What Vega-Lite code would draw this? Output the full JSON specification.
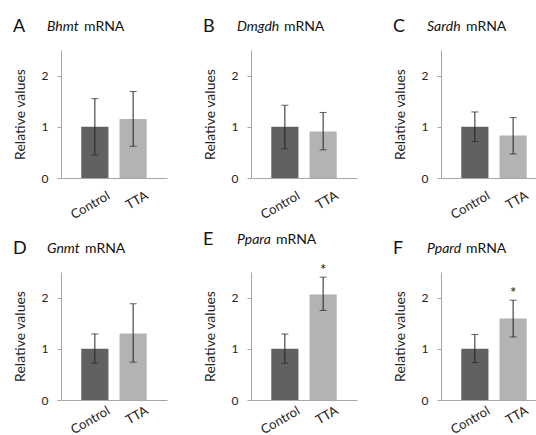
{
  "$schema": "https://vega.github.io/schema/vega-lite/v6.json",
  "padding": {"left": 13, "top": 18, "right": 0, "bottom": 2},
  "background": "white",
  "spacing": 9,
  "datasets": {
    "d": [
      {"panel": "A", "group": "Control", "value": 1.0, "lo": 0.45, "hi": 1.55, "sig": ""},
      {"panel": "A", "group": "TTA", "value": 1.15, "lo": 0.62, "hi": 1.69, "sig": ""},
      {"panel": "B", "group": "Control", "value": 1.0, "lo": 0.57, "hi": 1.42, "sig": ""},
      {"panel": "B", "group": "TTA", "value": 0.91, "lo": 0.55, "hi": 1.28, "sig": ""},
      {"panel": "C", "group": "Control", "value": 1.0, "lo": 0.71, "hi": 1.29, "sig": ""},
      {"panel": "C", "group": "TTA", "value": 0.83, "lo": 0.47, "hi": 1.18, "sig": ""},
      {"panel": "D", "group": "Control", "value": 1.0, "lo": 0.72, "hi": 1.29, "sig": ""},
      {"panel": "D", "group": "TTA", "value": 1.30, "lo": 0.74, "hi": 1.88, "sig": ""},
      {"panel": "E", "group": "Control", "value": 1.0, "lo": 0.72, "hi": 1.29, "sig": ""},
      {"panel": "E", "group": "TTA", "value": 2.06, "lo": 1.75, "hi": 2.40, "sig": "*"},
      {"panel": "F", "group": "Control", "value": 1.0, "lo": 0.73, "hi": 1.28, "sig": ""},
      {"panel": "F", "group": "TTA", "value": 1.59, "lo": 1.23, "hi": 1.95, "sig": "*"}
    ]
  },
  "config": {
    "font": "Lato",
    "view": {"stroke": null},
    "axis": {"grid": false, "domainColor": "#a6a6a6", "tickColor": "#a6a6a6", "labelFont": "Lato", "titleFont": "Lato", "labelColor": "#222222", "titleColor": "#222222"},
    "title": {"font": "Lato", "color": "#111111", "fontWeight": "normal", "subtitleFont": "Lato", "subtitleColor": "#111111"}
  },
  "vconcat": [
    {
      "spacing": 36,
      "hconcat": [
        {
          "title": {"text": "A", "anchor": "start", "frame": "bounds", "fontSize": 18, "offset": -18, "dy": -2},
          "vconcat": [{
            "title": {"text": "Bhmt", "subtitle": "mRNA", "fontSize": 14, "fontStyle": "italic", "subtitleFontSize": 14, "subtitleFontStyle": "normal", "anchor": "start", "frame": "group", "dx": -14, "subtitlePadding": 0, "offset": 16, "encode": {"subtitle": {"update": {"dx": {"value": 23}, "dy": {"value": -14}}}}},
            "width": 106, "height": 128,
            "data": {"name": "d"},
            "transform": [{"filter": "datum.panel == 'A'"}],
            "encoding": {
              "x": {"field": "group", "type": "nominal", "sort": ["Control", "TTA"], "scale": {"paddingInner": 0.29, "paddingOuter": 0.53}, "axis": {"title": null, "labelAngle": -30, "labelAlign": "right", "labelBaseline": "top", "labelOffset": 11, "ticks": false, "labelPadding": 11, "labelFontSize": 13}}
            },
            "layer": [
              {"mark": {"type": "bar"}, "encoding": {"y": {"field": "value", "type": "quantitative", "scale": {"domain": [0, 2.5], "nice": false}, "axis": {"values": [0, 1, 2], "format": "d", "tickSize": 4, "labelPadding": 9, "labelFontSize": 12, "title": "Relative values", "titleFontSize": 14, "titleFontWeight": "normal", "titlePadding": 14}}, "color": {"field": "group", "type": "nominal", "scale": {"domain": ["Control", "TTA"], "range": ["#616161", "#b3b3b3"]}, "legend": null}}},
              {"mark": {"type": "rule", "color": "#222222", "strokeWidth": 1}, "encoding": {"y": {"field": "lo", "type": "quantitative"}, "y2": {"field": "hi"}}},
              {"mark": {"type": "tick", "color": "#222222", "thickness": 1, "size": 7, "orient": "horizontal"}, "encoding": {"y": {"field": "lo", "type": "quantitative"}}},
              {"mark": {"type": "tick", "color": "#222222", "thickness": 1, "size": 7, "orient": "horizontal"}, "encoding": {"y": {"field": "hi", "type": "quantitative"}}},
              {"mark": {"type": "text", "fontSize": 15, "baseline": "alphabetic", "dy": -2, "color": "#111111"}, "encoding": {"y": {"field": "hi", "type": "quantitative"}, "text": {"field": "sig"}}}
            ]
          }]
        },
        {
          "title": {"text": "B", "anchor": "start", "frame": "bounds", "fontSize": 18, "offset": -18, "dy": -2},
          "vconcat": [{
            "title": {"text": "Dmgdh", "subtitle": "mRNA", "fontSize": 14, "fontStyle": "italic", "subtitleFontSize": 14, "subtitleFontStyle": "normal", "anchor": "start", "frame": "group", "dx": -14, "subtitlePadding": 0, "offset": 16, "encode": {"subtitle": {"update": {"dx": {"value": 33}, "dy": {"value": -14}}}}},
            "width": 106, "height": 128,
            "data": {"name": "d"},
            "transform": [{"filter": "datum.panel == 'B'"}],
            "encoding": {
              "x": {"field": "group", "type": "nominal", "sort": ["Control", "TTA"], "scale": {"paddingInner": 0.29, "paddingOuter": 0.53}, "axis": {"title": null, "labelAngle": -30, "labelAlign": "right", "labelBaseline": "top", "labelOffset": 11, "ticks": false, "labelPadding": 11, "labelFontSize": 13}}
            },
            "layer": [
              {"mark": {"type": "bar"}, "encoding": {"y": {"field": "value", "type": "quantitative", "scale": {"domain": [0, 2.5], "nice": false}, "axis": {"values": [0, 1, 2], "format": "d", "tickSize": 4, "labelPadding": 9, "labelFontSize": 12, "title": "Relative values", "titleFontSize": 14, "titleFontWeight": "normal", "titlePadding": 14}}, "color": {"field": "group", "type": "nominal", "scale": {"domain": ["Control", "TTA"], "range": ["#616161", "#b3b3b3"]}, "legend": null}}},
              {"mark": {"type": "rule", "color": "#222222", "strokeWidth": 1}, "encoding": {"y": {"field": "lo", "type": "quantitative"}, "y2": {"field": "hi"}}},
              {"mark": {"type": "tick", "color": "#222222", "thickness": 1, "size": 7, "orient": "horizontal"}, "encoding": {"y": {"field": "lo", "type": "quantitative"}}},
              {"mark": {"type": "tick", "color": "#222222", "thickness": 1, "size": 7, "orient": "horizontal"}, "encoding": {"y": {"field": "hi", "type": "quantitative"}}},
              {"mark": {"type": "text", "fontSize": 15, "baseline": "alphabetic", "dy": -2, "color": "#111111"}, "encoding": {"y": {"field": "hi", "type": "quantitative"}, "text": {"field": "sig"}}}
            ]
          }]
        },
        {
          "title": {"text": "C", "anchor": "start", "frame": "bounds", "fontSize": 18, "offset": -18, "dy": -2},
          "vconcat": [{
            "title": {"text": "Sardh", "subtitle": "mRNA", "fontSize": 14, "fontStyle": "italic", "subtitleFontSize": 14, "subtitleFontStyle": "normal", "anchor": "start", "frame": "group", "dx": -14, "subtitlePadding": 0, "offset": 16, "encode": {"subtitle": {"update": {"dx": {"value": 25}, "dy": {"value": -14}}}}},
            "width": 106, "height": 128,
            "data": {"name": "d"},
            "transform": [{"filter": "datum.panel == 'C'"}],
            "encoding": {
              "x": {"field": "group", "type": "nominal", "sort": ["Control", "TTA"], "scale": {"paddingInner": 0.29, "paddingOuter": 0.53}, "axis": {"title": null, "labelAngle": -30, "labelAlign": "right", "labelBaseline": "top", "labelOffset": 11, "ticks": false, "labelPadding": 11, "labelFontSize": 13}}
            },
            "layer": [
              {"mark": {"type": "bar"}, "encoding": {"y": {"field": "value", "type": "quantitative", "scale": {"domain": [0, 2.5], "nice": false}, "axis": {"values": [0, 1, 2], "format": "d", "tickSize": 4, "labelPadding": 9, "labelFontSize": 12, "title": "Relative values", "titleFontSize": 14, "titleFontWeight": "normal", "titlePadding": 14}}, "color": {"field": "group", "type": "nominal", "scale": {"domain": ["Control", "TTA"], "range": ["#616161", "#b3b3b3"]}, "legend": null}}},
              {"mark": {"type": "rule", "color": "#222222", "strokeWidth": 1}, "encoding": {"y": {"field": "lo", "type": "quantitative"}, "y2": {"field": "hi"}}},
              {"mark": {"type": "tick", "color": "#222222", "thickness": 1, "size": 7, "orient": "horizontal"}, "encoding": {"y": {"field": "lo", "type": "quantitative"}}},
              {"mark": {"type": "tick", "color": "#222222", "thickness": 1, "size": 7, "orient": "horizontal"}, "encoding": {"y": {"field": "hi", "type": "quantitative"}}},
              {"mark": {"type": "text", "fontSize": 15, "baseline": "alphabetic", "dy": -2, "color": "#111111"}, "encoding": {"y": {"field": "hi", "type": "quantitative"}, "text": {"field": "sig"}}}
            ]
          }]
        }
      ]
    },
    {
      "spacing": 36,
      "hconcat": [
        {
          "title": {"text": "D", "anchor": "start", "frame": "bounds", "fontSize": 18, "offset": -18, "dy": -2},
          "vconcat": [{
            "title": {"text": "Gnmt", "subtitle": "mRNA", "fontSize": 14, "fontStyle": "italic", "subtitleFontSize": 14, "subtitleFontStyle": "normal", "anchor": "start", "frame": "group", "dx": -14, "subtitlePadding": 0, "offset": 16, "encode": {"subtitle": {"update": {"dx": {"value": 24}, "dy": {"value": -14}}}}},
            "width": 106, "height": 128,
            "data": {"name": "d"},
            "transform": [{"filter": "datum.panel == 'D'"}],
            "encoding": {
              "x": {"field": "group", "type": "nominal", "sort": ["Control", "TTA"], "scale": {"paddingInner": 0.29, "paddingOuter": 0.53}, "axis": {"title": null, "labelAngle": -30, "labelAlign": "right", "labelBaseline": "top", "labelOffset": 11, "ticks": false, "labelPadding": 4, "labelFontSize": 13}}
            },
            "layer": [
              {"mark": {"type": "bar"}, "encoding": {"y": {"field": "value", "type": "quantitative", "scale": {"domain": [0, 2.5], "nice": false}, "axis": {"values": [0, 1, 2], "format": "d", "tickSize": 4, "labelPadding": 9, "labelFontSize": 12, "title": "Relative values", "titleFontSize": 14, "titleFontWeight": "normal", "titlePadding": 14}}, "color": {"field": "group", "type": "nominal", "scale": {"domain": ["Control", "TTA"], "range": ["#616161", "#b3b3b3"]}, "legend": null}}},
              {"mark": {"type": "rule", "color": "#222222", "strokeWidth": 1}, "encoding": {"y": {"field": "lo", "type": "quantitative"}, "y2": {"field": "hi"}}},
              {"mark": {"type": "tick", "color": "#222222", "thickness": 1, "size": 7, "orient": "horizontal"}, "encoding": {"y": {"field": "lo", "type": "quantitative"}}},
              {"mark": {"type": "tick", "color": "#222222", "thickness": 1, "size": 7, "orient": "horizontal"}, "encoding": {"y": {"field": "hi", "type": "quantitative"}}},
              {"mark": {"type": "text", "fontSize": 15, "baseline": "alphabetic", "dy": -2, "color": "#111111"}, "encoding": {"y": {"field": "hi", "type": "quantitative"}, "text": {"field": "sig"}}}
            ]
          }]
        },
        {
          "title": {"text": "E", "anchor": "start", "frame": "bounds", "fontSize": 18, "offset": -18, "dy": -2},
          "vconcat": [{
            "title": {"text": "Ppara", "subtitle": "mRNA", "fontSize": 14, "fontStyle": "italic", "subtitleFontSize": 14, "subtitleFontStyle": "normal", "anchor": "start", "frame": "group", "dx": -14, "subtitlePadding": 0, "offset": 16, "encode": {"subtitle": {"update": {"dx": {"value": 25}, "dy": {"value": -14}}}}},
            "width": 106, "height": 128,
            "data": {"name": "d"},
            "transform": [{"filter": "datum.panel == 'E'"}],
            "encoding": {
              "x": {"field": "group", "type": "nominal", "sort": ["Control", "TTA"], "scale": {"paddingInner": 0.29, "paddingOuter": 0.53}, "axis": {"title": null, "labelAngle": -30, "labelAlign": "right", "labelBaseline": "top", "labelOffset": 11, "ticks": false, "labelPadding": 4, "labelFontSize": 13}}
            },
            "layer": [
              {"mark": {"type": "bar"}, "encoding": {"y": {"field": "value", "type": "quantitative", "scale": {"domain": [0, 2.5], "nice": false}, "axis": {"values": [0, 1, 2], "format": "d", "tickSize": 4, "labelPadding": 9, "labelFontSize": 12, "title": "Relative values", "titleFontSize": 14, "titleFontWeight": "normal", "titlePadding": 14}}, "color": {"field": "group", "type": "nominal", "scale": {"domain": ["Control", "TTA"], "range": ["#616161", "#b3b3b3"]}, "legend": null}}},
              {"mark": {"type": "rule", "color": "#222222", "strokeWidth": 1}, "encoding": {"y": {"field": "lo", "type": "quantitative"}, "y2": {"field": "hi"}}},
              {"mark": {"type": "tick", "color": "#222222", "thickness": 1, "size": 7, "orient": "horizontal"}, "encoding": {"y": {"field": "lo", "type": "quantitative"}}},
              {"mark": {"type": "tick", "color": "#222222", "thickness": 1, "size": 7, "orient": "horizontal"}, "encoding": {"y": {"field": "hi", "type": "quantitative"}}},
              {"mark": {"type": "text", "fontSize": 15, "baseline": "alphabetic", "dy": -2, "color": "#111111"}, "encoding": {"y": {"field": "hi", "type": "quantitative"}, "text": {"field": "sig"}}}
            ]
          }]
        },
        {
          "title": {"text": "F", "anchor": "start", "frame": "bounds", "fontSize": 18, "offset": -18, "dy": -2},
          "vconcat": [{
            "title": {"text": "Ppard", "subtitle": "mRNA", "fontSize": 14, "fontStyle": "italic", "subtitleFontSize": 14, "subtitleFontStyle": "normal", "anchor": "start", "frame": "group", "dx": -14, "subtitlePadding": 0, "offset": 16, "encode": {"subtitle": {"update": {"dx": {"value": 25}, "dy": {"value": -14}}}}},
            "width": 106, "height": 128,
            "data": {"name": "d"},
            "transform": [{"filter": "datum.panel == 'F'"}],
            "encoding": {
              "x": {"field": "group", "type": "nominal", "sort": ["Control", "TTA"], "scale": {"paddingInner": 0.29, "paddingOuter": 0.53}, "axis": {"title": null, "labelAngle": -30, "labelAlign": "right", "labelBaseline": "top", "labelOffset": 11, "ticks": false, "labelPadding": 4, "labelFontSize": 13}}
            },
            "layer": [
              {"mark": {"type": "bar"}, "encoding": {"y": {"field": "value", "type": "quantitative", "scale": {"domain": [0, 2.5], "nice": false}, "axis": {"values": [0, 1, 2], "format": "d", "tickSize": 4, "labelPadding": 9, "labelFontSize": 12, "title": "Relative values", "titleFontSize": 14, "titleFontWeight": "normal", "titlePadding": 14}}, "color": {"field": "group", "type": "nominal", "scale": {"domain": ["Control", "TTA"], "range": ["#616161", "#b3b3b3"]}, "legend": null}}},
              {"mark": {"type": "rule", "color": "#222222", "strokeWidth": 1}, "encoding": {"y": {"field": "lo", "type": "quantitative"}, "y2": {"field": "hi"}}},
              {"mark": {"type": "tick", "color": "#222222", "thickness": 1, "size": 7, "orient": "horizontal"}, "encoding": {"y": {"field": "lo", "type": "quantitative"}}},
              {"mark": {"type": "tick", "color": "#222222", "thickness": 1, "size": 7, "orient": "horizontal"}, "encoding": {"y": {"field": "hi", "type": "quantitative"}}},
              {"mark": {"type": "text", "fontSize": 15, "baseline": "alphabetic", "dy": -2, "color": "#111111"}, "encoding": {"y": {"field": "hi", "type": "quantitative"}, "text": {"field": "sig"}}}
            ]
          }]
        }
      ]
    }
  ]
}
